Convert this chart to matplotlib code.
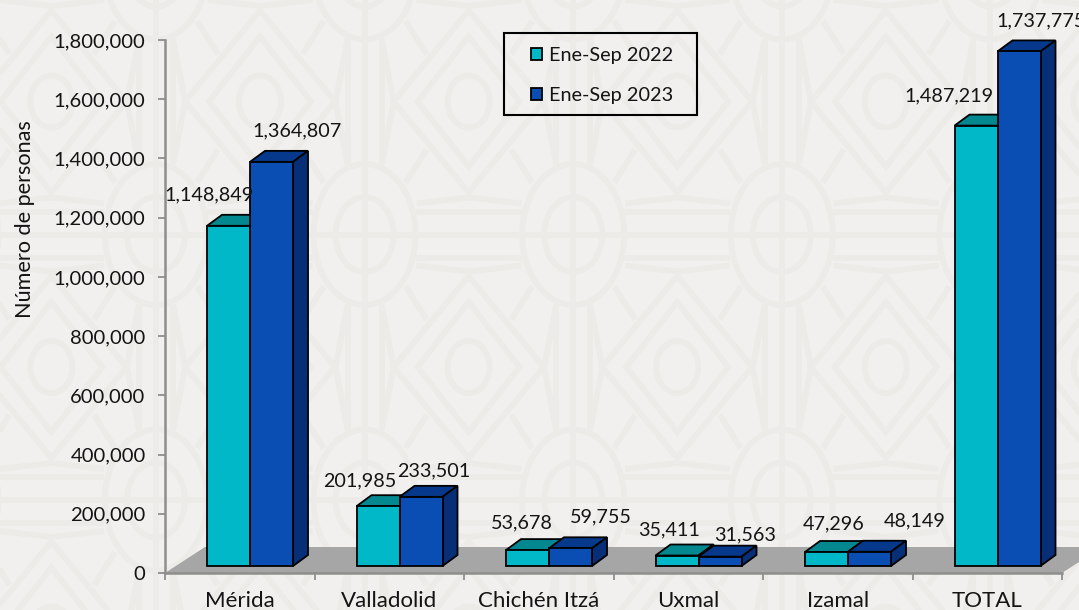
import numpy as np
import matplotlib
matplotlib.use('Agg')
import matplotlib.pyplot as plt
from matplotlib.patches import Ellipse, Polygon, Rectangle

# datos
categorias = ['Mérida', 'Valladolid', 'Chichén Itzá', 'Uxmal', 'Izamal', 'TOTAL']
ene_sep_2022 = [1148849, 201985, 53678, 35411, 47296, 1487219]
ene_sep_2023 = [1364807, 233501, 59755, 31563, 48149, 1737775]
series_nombres = ['Ene-Sep 2022', 'Ene-Sep 2023']
y_ticks = [0, 200000, 400000, 600000, 800000, 1000000, 1200000, 1400000, 1600000, 1800000]

plt.rcParams['font.family'] = ['Lato', 'DejaVu Sans']
TXT = '#141414'
W, H = 1079, 610

fig = plt.figure(figsize=(W / 100, H / 100), dpi=100, facecolor='#f1f0ee')

# fondo con el patron geometrico
bg = fig.add_axes([0, 0, 1, 1], zorder=-1)
bg.set_xlim(0, W)
bg.set_ylim(H, 0)
bg.axis('off')
COL = '#ecebe7'
LW = 4.2


def seg(x1, y1, x2, y2, lw=LW):
    bg.plot([x1, x2], [y1, y2], color=COL, lw=lw, solid_capstyle='butt')


for i in range(-1, 7):
    for j in range(-1, 4):
        cx = 156 + 208.6 * i - 0.0
        cy = -31 + 265.5 * j
        for w, h in [(102, 141), (58, 75)]:
            bg.add_patch(Ellipse((cx, cy), w, h, fill=False, ec=COL, lw=LW))
        # bandas horizontales y verticales
        seg(cx - 51, cy, cx + 157, cy)
        seg(cx + 51, cy - 23, cx + 157, cy - 23)
        seg(cx + 51, cy + 23, cx + 157, cy + 23)
        seg(cx, cy - 70, cx, cy + 195)
        seg(cx - 17, cy + 70, cx - 17, cy + 195)
        seg(cx + 17, cy + 70, cx + 17, cy + 195)
        # rombo con su ovalo
        dx, dy = cx + 104, cy + 132.5
        for a, b in [(75, 91), (51, 65)]:
            bg.add_patch(Polygon([(dx - a, dy), (dx, dy - b), (dx + a, dy), (dx, dy + b)],
                                 fill=False, ec=COL, lw=LW))
        bg.add_patch(Ellipse((dx, dy), 42, 52, fill=False, ec=COL, lw=LW))
        # radios entre circulo y rombo
        for sx in (-1, 1):
            for sy in (-1, 1):
                seg(cx + sx * 52, cy + sy * 31, cx + sx * 104, cy + sy * 37)
                seg(cx + sx * 41, cy + sy * 52, cx + sx * 62, cy + sy * 85)
                seg(cx + sx * 17, cy + sy * 70, cx + sx * 29, cy + sy * 132)

# ejes principales
ax = fig.add_axes([165 / W, 1 - 573 / H, 897 / W, 533 / H])
ax.patch.set_visible(False)
ax.set_xlim(0, len(categorias))
ax.set_ylim(0, 1800000)

px_y = 1800000 / 533
px_x = len(categorias) / 897
base = 7 * px_y
prof_x = 15 * px_x
prof_y = 11 * px_y
ancho = 43 * px_x
inicio = 0.281

# piso gris
ax.add_patch(Polygon([(0, 0), (40 * px_x, 26 * px_y), (6 + 40 * px_x, 26 * px_y), (6, 0)],
                     closed=True, fc='#a6a6a6', ec='none', clip_on=False, zorder=1))

colores = [('#00b8c8', '#03888f', '#03888f'), ('#0a4db3', '#06388c', '#062f78')]
x_pos = np.arange(len(categorias)) + inicio

for n, valores in enumerate([ene_sep_2022, ene_sep_2023]):
    frente, tapa, lado = colores[n]
    xs = x_pos + n * ancho
    z = 3 + n
    for x, v in zip(xs, valores):
        arriba = base + v
        ax.add_patch(Polygon([(x, arriba), (x + prof_x, arriba + prof_y),
                              (x + ancho + prof_x, arriba + prof_y), (x + ancho, arriba)],
                             fc=tapa, ec='black', lw=1.3, zorder=z, clip_on=False))
        ax.add_patch(Polygon([(x + ancho, base), (x + ancho + prof_x, base + prof_y),
                              (x + ancho + prof_x, arriba + prof_y), (x + ancho, arriba)],
                             fc=lado, ec='black', lw=1.3, zorder=z, clip_on=False))
    ax.bar(xs, valores, width=ancho, bottom=base, align='edge', color=frente,
           edgecolor='black', linewidth=1.3, zorder=z + 0.1, label=series_nombres[n], clip_on=False)

# etiquetas de valor, desplazadas a mano como en el original (pixeles)
desp_2022 = [(-20, 31), (-18, 25), (-6, 27), (-8, 26), (7, 28), (-27, 30)]
desp_2023 = [(25, 31), (13, 26), (30, 31), (25, 22), (45, 31), (22, 31)]
for n, (valores, desp) in enumerate([(ene_sep_2022, desp_2022), (ene_sep_2023, desp_2023)]):
    for x, v, d in zip(x_pos + n * ancho, valores, desp):
        ax.annotate(f'{v:,}', xy=(x + ancho / 2, base + v), xytext=d,
                    textcoords='offset pixels', ha='center', va='center',
                    fontsize=14.2, color=TXT, zorder=8, annotation_clip=False)

# ejes
for s in ['top', 'right']:
    ax.spines[s].set_visible(False)
for s in ['left', 'bottom']:
    ax.spines[s].set_color('#8e8e8e')
    ax.spines[s].set_linewidth(1.8)
    ax.spines[s].set_zorder(2)
ax.set_yticks(y_ticks)
ax.set_yticklabels([f'{t:,}' for t in y_ticks], fontsize=14.6, color=TXT)
ax.set_xticks(np.arange(len(categorias) + 1))
ax.set_xticklabels([])
ax.set_xticks(np.arange(len(categorias)) + 0.5, minor=True)
ax.set_xticklabels(categorias, minor=True, fontsize=16, color=TXT)
ax.tick_params(axis='x', which='minor', length=0, pad=13)
ax.tick_params(axis='x', which='major', length=5, width=1.3, color='#8e8e8e')
ax.tick_params(axis='y', length=5, width=1.3, color='#8e8e8e', pad=9)

fig.text(25 / W, 1 - 219 / H, 'Número de personas', rotation=90, ha='center', va='center',
         fontsize=15.6, color=TXT)

# leyenda: marco aparte para poder fijar su tamano
fig.add_artist(Rectangle((504 / W, 1 - 115 / H), 193 / W, 82 / H, transform=fig.transFigure,
                         fill=False, ec='black', lw=1.5, zorder=9))
leg = ax.legend(loc='upper left', bbox_to_anchor=((531 - 165) / 897, 1 - (47 - 40) / 533),
                borderaxespad=0, fontsize=14.3, frameon=False, handlelength=0.55,
                handleheight=0.55, handletextpad=0.35, labelspacing=1.15, borderpad=0,
                labelcolor=TXT)
leg.set_zorder(9)

fig.savefig('out.png', dpi=100, facecolor=fig.get_facecolor())
